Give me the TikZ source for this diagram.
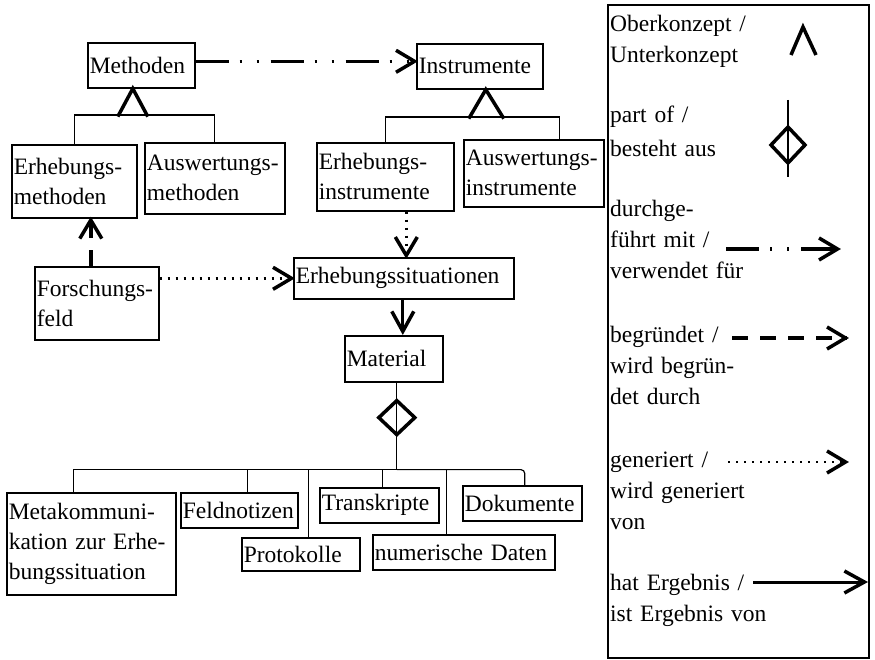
\documentclass[tikz,border=0pt]{standalone}
\usepackage{fontspec}
\setmainfont{Liberation Serif}
\usetikzlibrary{arrows.meta,decorations.markings}
\newcommand\kastenschrift{\fontsize{23.5pt}{30pt}\selectfont}
\newcommand\legendenschrift{\fontsize{23.5pt}{31pt}\selectfont}
\tikzset{
  kasten/.style={draw, line width=1.6pt, anchor=north west, inner xsep=2pt, inner ysep=2pt, align=left, font=\kastenschrift},
  legtext/.style={anchor=base west, inner sep=0pt, align=left, text width=160pt, font=\legendenschrift},
  ast/.style={line width=1.2pt},
  dreieck/.style={line width=3.5pt},
  >={Straight Barb[length=20pt,width=22pt,line width=3.5pt]},
  spitze/.style={postaction={decorate}, decoration={markings, mark=at position 1 with {\draw[solid, line width=3.5pt] (-20pt,-11pt) -- (-1.5pt,0pt) -- (-20pt,11pt);}}},
  durchgefuehrt/.style={spitze, line width=3.5pt, dash pattern=on 33pt off 11pt on 2pt off 15pt on 2pt off 12pt},
  begruendet/.style={spitze, line width=3.5pt, dash pattern=on 16pt off 12pt},
  generiert/.style={spitze, line width=2.5pt, dash pattern=on 2pt off 6pt},
  ergebnis/.style={->, line width=3pt}
}
\begin{document}
\begin{tikzpicture}[x=1pt,y=-1pt]
\useasboundingbox (0,0) rectangle (875,660);
% Konzepte
\node [kasten, text width=103pt, minimum height=45pt] (meth) at (87,42) {Methoden};
\node [kasten, text width=122pt, minimum height=45pt] (inst) at (416,43) {Instrumente};
\node [kasten, text width=121pt, minimum height=73pt] (erhmeth) at (11,144) {Erhebungs-\\methoden};
\node [kasten, text width=136pt, minimum height=71pt] (ausmeth) at (144,142) {Auswertungs-\\methoden};
\node [kasten, text width=133pt, minimum height=68pt] (erhinst) at (316,142) {Erhebungs-\\instrumente};
\node [kasten, text width=136pt, minimum height=67pt] (ausinst) at (463,139) {Auswertungs-\\instrumente};
\node [kasten, text width=120pt, minimum height=73pt] (forsch) at (34,266) {Forschungs-\\feld};
\node [kasten, text width=216pt, minimum height=41pt] (erhsit) at (293,257) {Erhebungssituationen};
\node [kasten, text width=94pt, minimum height=46pt] (mat) at (344,335) {Material};
\node [kasten, text width=165pt, minimum height=102pt] (meta) at (6,492) {Metakommuni-\\kation zur Erhe-\\bungssituation};
\node [kasten, text width=113pt, minimum height=35pt] (feldn) at (180,492) {Feldnotizen};
\node [kasten, text width=114pt, minimum height=33pt] (proto) at (241,537) {Protokolle};
\node [kasten, text width=115pt, minimum height=35pt] (trans) at (319,487) {Transkripte};
\node [kasten, text width=115pt, minimum height=35pt] (doku) at (462,485) {Dokumente};
\node [kasten, text width=178pt, minimum height=35pt] (numdat) at (372,534) {numerische Daten};
% Oberkonzept / Unterkonzept
\coordinate (methspitze) at ([xshift=-8.5pt]meth.south);
\coordinate (instspitze) at ([xshift=6pt]inst.south);
\draw [dreieck] ([xshift=-15pt,yshift=-28pt]methspitze) -- (methspitze) -- ([xshift=15pt,yshift=-28pt]methspitze);
\draw [dreieck] ([xshift=-17pt,yshift=-29pt]instspitze) -- (instspitze) -- ([xshift=18pt,yshift=-29pt]instspitze);
\draw [ast] (erhmeth.north) -- ++(0,-29) -| (ausmeth.north);
\draw [ast] (erhinst.north) -- ++(0,-25) -| ([xshift=26pt]ausinst.north);
% Beziehungen
\draw [durchgefuehrt] ([yshift=4pt]meth.east) -- ([yshift=5pt]inst.west);
\draw [begruendet] ([xshift=-6pt]forsch.north) -- ([xshift=16.5pt]erhmeth.south);
\draw [generiert] ([yshift=25pt]forsch.east) -- (erhsit.west);
\draw [generiert] ([xshift=21pt]erhinst.south) -- ([xshift=2.5pt]erhsit.north);
\draw [ergebnis] ([xshift=-1pt]erhsit.south) -- ([xshift=9pt]mat.north);
% part of
\coordinate (bus) at ([xshift=3pt,yshift=-87pt]mat.south);
\coordinate (raute) at ([xshift=3pt,yshift=-35pt]mat.south);
\draw [ast] ([xshift=3pt]mat.south) -- (bus);
\draw [dreieck] ([yshift=17pt]raute) -- ([xshift=18pt]raute) -- ([yshift=-17pt]raute) -- ([xshift=-18pt]raute) -- cycle;
\draw [ast] (bus) -| ([xshift=-17.5pt]meta.north);
\draw [ast] (bus) -| ([xshift=8.5pt]feldn.north);
\draw [ast] (bus) -| ([xshift=8pt]proto.north);
\draw [ast] (bus) -| ([xshift=3.5pt]trans.north);
\draw [ast] (bus) -| ([xshift=-17pt]numdat.north);
\draw [ast, rounded corners=4pt] (bus) -| ([xshift=2.5pt]doku.north);
% Legende
\draw [line width=1.6pt] (608,5) rectangle (869,658);
\node [legtext] (leg1) at (610,32) {Oberkonzept /\\Unterkonzept};
\node [legtext] (leg2) at (610,123) {part of /\\[3pt]besteht aus};
\node [legtext] (leg3) at (610,217) {durchge-\\führt mit /\\verwendet für};
\node [legtext] (leg4) at (610,342) {begründet /\\wird begrün-\\det durch};
\node [legtext] (leg5) at (610,467) {generiert /\\wird generiert\\von};
\node [legtext] (leg6) at (610,590) {hat Ergebnis /\\ist Ergebnis von};
\draw [dreieck] (791,55) -- (803,27) -- (816,55);
\coordinate (lrautea) at (788,100);
\coordinate (lrauteb) at (788,177);
\draw [ast] (lrautea) -- (lrauteb);
\draw [dreieck] (788,127) -- (805,145) -- (788,163) -- (771,145) -- cycle;
\coordinate (la1) at (726,249);
\coordinate (lb1) at (839,249);
\coordinate (la2) at (732,338);
\coordinate (lb2) at (847,338);
\coordinate (la3) at (728,462);
\coordinate (lb3) at (847,462);
\coordinate (la4) at (753,582);
\coordinate (lb4) at (868,582);
\draw [durchgefuehrt] (la1) -- (lb1);
\draw [begruendet] (la2) -- (lb2);
\draw [generiert] (la3) -- (lb3);
\draw [ergebnis] (la4) -- (lb4);
\end{tikzpicture}
\end{document}
